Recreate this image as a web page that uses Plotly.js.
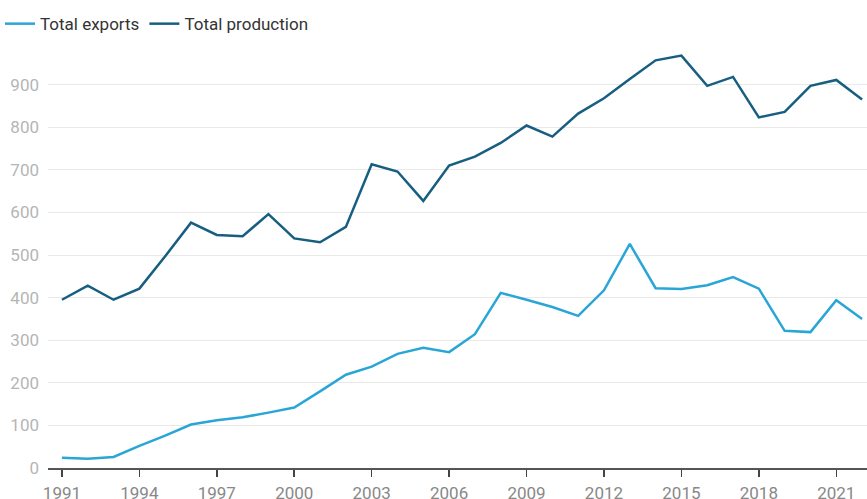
<!DOCTYPE html>
<html>
<head>
<meta charset="utf-8">
<script src="https://cdn.plot.ly/plotly-3.0.1.min.js"></script>
<style>html,body{margin:0;padding:0;background:#fff;}#chart{width:867px;height:499px;}</style>
</head>
<body>
<div id="chart"></div>
<script>
const years = [1991,1992,1993,1994,1995,1996,1997,1998,1999,2000,2001,2002,2003,2004,2005,2006,2007,2008,2009,2010,2011,2012,2013,2014,2015,2016,2017,2018,2019,2020,2021,2022];
const totalExports = [24,22,26,52,76,102,112,119,130,142,180,219,238,268,282,272,314,411,395,378,357,417,526,422,420,429,448,421,322,319,394,350];
const totalProduction = [395,428,395,421,497,576,547,544,596,539,530,566,713,696,627,710,731,763,804,778,832,868,913,957,968,897,918,823,836,897,911,865];
const xTicks = [1991,1994,1997,2000,2003,2006,2009,2012,2015,2018,2021];
const yTicks = [0,100,200,300,400,500,600,700,800,900];

const traces = [
  {x: years, y: totalExports, name: 'Total exports', type: 'scatter', mode: 'lines',
   line: {color: '#29a6d6', width: 2.5}},
  {x: years, y: totalProduction, name: 'Total production', type: 'scatter', mode: 'lines',
   line: {color: '#175e80', width: 2.5}}
];

const layout = {
  width: 867, height: 499,
  margin: {l: 48, r: 0, t: 42, b: 31},
  paper_bgcolor: '#fff', plot_bgcolor: '#fff',
  font: {family: 'Roboto, sans-serif', size: 17, color: '#333'},
  showlegend: true,
  legend: {orientation: 'h', x: -48/819, xanchor: 'left', y: 1.042, yanchor: 'middle',
           font: {size: 17, color: '#333'}, bgcolor: 'rgba(0,0,0,0)', itemclick: false},
  xaxis: {range: [1990.46, 2022.19], tickmode: 'array', tickvals: xTicks, ticktext: xTicks.map(String),
          showgrid: false, zeroline: false, showline: true, linecolor: '#555', linewidth: 1.5,
          ticks: 'outside', ticklen: 7, tickwidth: 1.5, tickcolor: '#444',
          ticklabelstandoff: 2,
          tickfont: {size: 17, color: '#888'}},
  yaxis: {range: [0, 1000], tickmode: 'array', tickvals: yTicks, ticktext: yTicks.map(String),
          showgrid: true, gridcolor: '#e9e9e9', gridwidth: 1, zeroline: false, showline: false,
          ticks: '', ticklabelstandoff: 8, tickfont: {size: 17, color: '#b5b5b5'}}
};

Plotly.newPlot('chart', traces, layout, {displayModeBar: false, staticPlot: true});
</script>
</body>
</html>
